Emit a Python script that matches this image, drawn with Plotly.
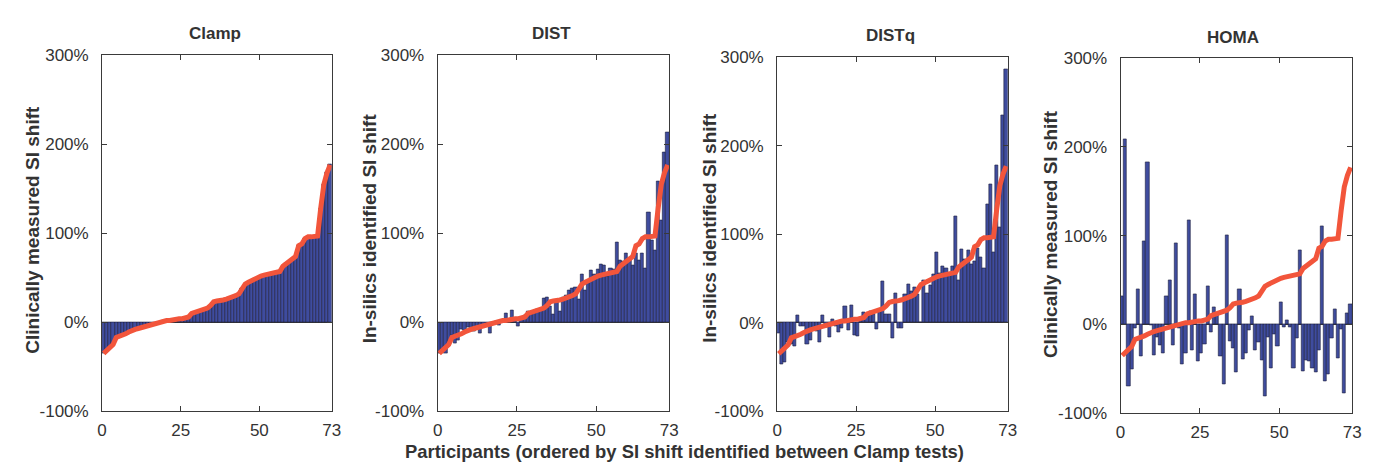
import plotly.graph_objects as go

# participant index, ordered by clamp-measured SI shift
participants = list(range(1, 74))

# clinically measured SI shift (Clamp), sorted, in %
clamp = [-35, -32, -29, -25, -17, -16, -15, -13, -11, -9,
         -8, -7, -6, -5, -4, -3, -2, -1, 1, 2,
         2, 2, 3, 3, 4, 4, 5, 6, 10, 11,
         12, 13, 14, 16, 19, 23, 24, 24, 25, 26,
         27, 28, 30, 32, 38, 43, 45, 47, 49, 51,
         52, 53, 54, 55, 56, 56, 57, 63, 66, 68,
         71, 74, 86, 88, 94, 96, 96, 97, 97, 128,
         155, 168, 177]

# in-silico identified SI shift (DIST)
dist = [-35, -33, -35, -24, -15, -24, -20, -8, -9, -6,
        -10, -10, -8, -12, -4, -3, -12, -2, 1, -3,
        2, 10, 2, 13, 4, -5, 6, 8, 12, 9,
        11, 14, 13, 27, 28, 18, 9, 23, 12, 28,
        30, 36, 38, 39, 26, 54, 36, 47, 58, 54,
        59, 65, 64, 52, 61, 60, 90, 70, 68, 77,
        72, 64, 77, 70, 77, 61, 124, 92, 81, 158,
        115, 191, 213]

# in-silico identified SI shift (DISTq)
distq = [-12, -47, -45, -22, -24, -27, 8, -4, -4, -24,
         -20, -8, -10, -22, 9, -5, -16, 4, -4, -11,
         -6, 19, -8, 20, -14, -15, 5, 12, 9, 13,
         10, -7, 14, 47, 10, 10, -18, 33, -6, -6,
         32, 43, 36, 40, 32, 1, 48, 33, 42, 55,
         80, 56, 64, 61, 56, 64, 120, 48, 83, 72,
         82, 66, 70, 84, 74, 61, 134, 156, 80, 178,
         108, 234, 286]

# clinically measured SI shift (HOMA)
homa = [32, 209, -70, -50, -4, 40, -36, 94, 183, -1,
        -35, -14, -23, -32, 32, 50, -23, 92, -4, -45,
        -32, 117, -29, 34, -42, -32, -22, 43, -9, 19,
        10, -36, -67, 101, -19, -27, -54, 40, -39, -33,
        -7, 9, -29, -20, -40, -81, -15, -49, -11, -25,
        25, -3, 5, -3, -49, -16, 84, -53, -40, -41,
        -49, -54, -29, 111, -64, -56, -16, 17, -38, -5,
        -78, 13, 23]

panel_titles = ["Clamp", "DIST", "DISTq", "HOMA"]
y_titles = ["Clinically measured SI shift", "In-silics identified SI shift",
            "In-silics identified SI shift", "Clinically measured SI shift"]
x_title = "Participants (ordered by SI shift identified between Clamp tests)"
y_tick_vals = [-100, 0, 100, 200, 300]
y_tick_text = ["-100%", "0%", "100%", "200%", "300%"]
x_tick_vals = [0, 25, 50, 73]
x_tick_text = ["0", "25", "50", "73"]

W, H = 1373, 466
# plot boxes in pixels: (left, right, top, bottom)
boxes = [(90, 322, 40, 411), (429, 663, 40, 411),
         (772, 1005, 42, 411), (1119, 1353, 43, 413)]
title_pos = [(204, 17), (544, 17), (887, 19), (1233, 21)]
ytitle_pos = [(20, 222), (360, 220), (703, 220), (1048, 226)]
xtitle_pos = (678, 453)

BAR_FILL = "#3f4c9e"
BAR_EDGE = "#1c1f3c"
LINE_RED = "#f2553b"
AXIS = "#3a3a3a"
FONT = "Liberation Sans, Arial, sans-serif"

fig = go.Figure()
series = [clamp, dist, distq, homa]
xc = [p - 0.5 for p in participants]

for k, vals in enumerate(series):
    n = k + 1
    xa = "x" if n == 1 else f"x{n}"
    ya = "y" if n == 1 else f"y{n}"
    fig.add_trace(go.Bar(
        x=xc, y=vals, width=1,
        marker=dict(color=BAR_FILL, line=dict(color=BAR_EDGE, width=0.6)),
        xaxis=xa, yaxis=ya, showlegend=False, hoverinfo="y"
    ))
    fig.add_trace(go.Scatter(
        x=xc, y=clamp, mode="lines",
        line=dict(color=LINE_RED, width=5),
        xaxis=xa, yaxis=ya, showlegend=False, hoverinfo="skip"
    ))

    l, r, t, b = boxes[k]
    xkey = "xaxis" if n == 1 else f"xaxis{n}"
    ykey = "yaxis" if n == 1 else f"yaxis{n}"
    fig.update_layout(**{
        xkey: dict(
            domain=[l / W, r / W], anchor=ya, range=[0, 73],
            tickvals=x_tick_vals, ticktext=x_tick_text,
            ticks="inside", ticklen=5, tickcolor=AXIS,
            showline=True, linecolor=AXIS, linewidth=1, mirror="ticks",
            showgrid=False, zeroline=False, ticklabelstandoff=3,
            tickfont=dict(family=FONT, size=17, color="#333333"),
        ),
        ykey: dict(
            domain=[1 - b / H, 1 - t / H], anchor=xa, range=[-100, 300],
            tickvals=y_tick_vals, ticktext=y_tick_text,
            ticks="inside", ticklen=5, tickcolor=AXIS,
            showline=True, linecolor=AXIS, linewidth=1, mirror="ticks",
            showgrid=False, zeroline=True, zerolinecolor=AXIS, zerolinewidth=1,
            ticklabelstandoff=9,
            tickfont=dict(family=FONT, size=17, color="#333333"),
        ),
    })

annotations = []
for k in range(4):
    tx, ty = title_pos[k]
    annotations.append(dict(
        text=f"<b>{panel_titles[k]}</b>", x=tx / W, y=1 - ty / H,
        xref="paper", yref="paper", xanchor="center", yanchor="middle",
        showarrow=False, font=dict(family=FONT, size=17, color="#333333")
    ))
    ax_, ay_ = ytitle_pos[k]
    annotations.append(dict(
        text=f"<b>{y_titles[k]}</b>", x=ax_ / W, y=1 - ay_ / H,
        xref="paper", yref="paper", xanchor="center", yanchor="middle",
        textangle=-90, showarrow=False,
        font=dict(family=FONT, size=19, color="#333333")
    ))
annotations.append(dict(
    text=f"<b>{x_title}</b>", x=xtitle_pos[0] / W, y=1 - xtitle_pos[1] / H,
    xref="paper", yref="paper", xanchor="center", yanchor="middle",
    showarrow=False, font=dict(family=FONT, size=18.4, color="#333333")
))

fig.update_layout(
    width=W, height=H,
    margin=dict(l=0, r=0, t=0, b=0),
    paper_bgcolor="white", plot_bgcolor="white",
    bargap=0, annotations=annotations,
)

fig.write_html("out.html")
